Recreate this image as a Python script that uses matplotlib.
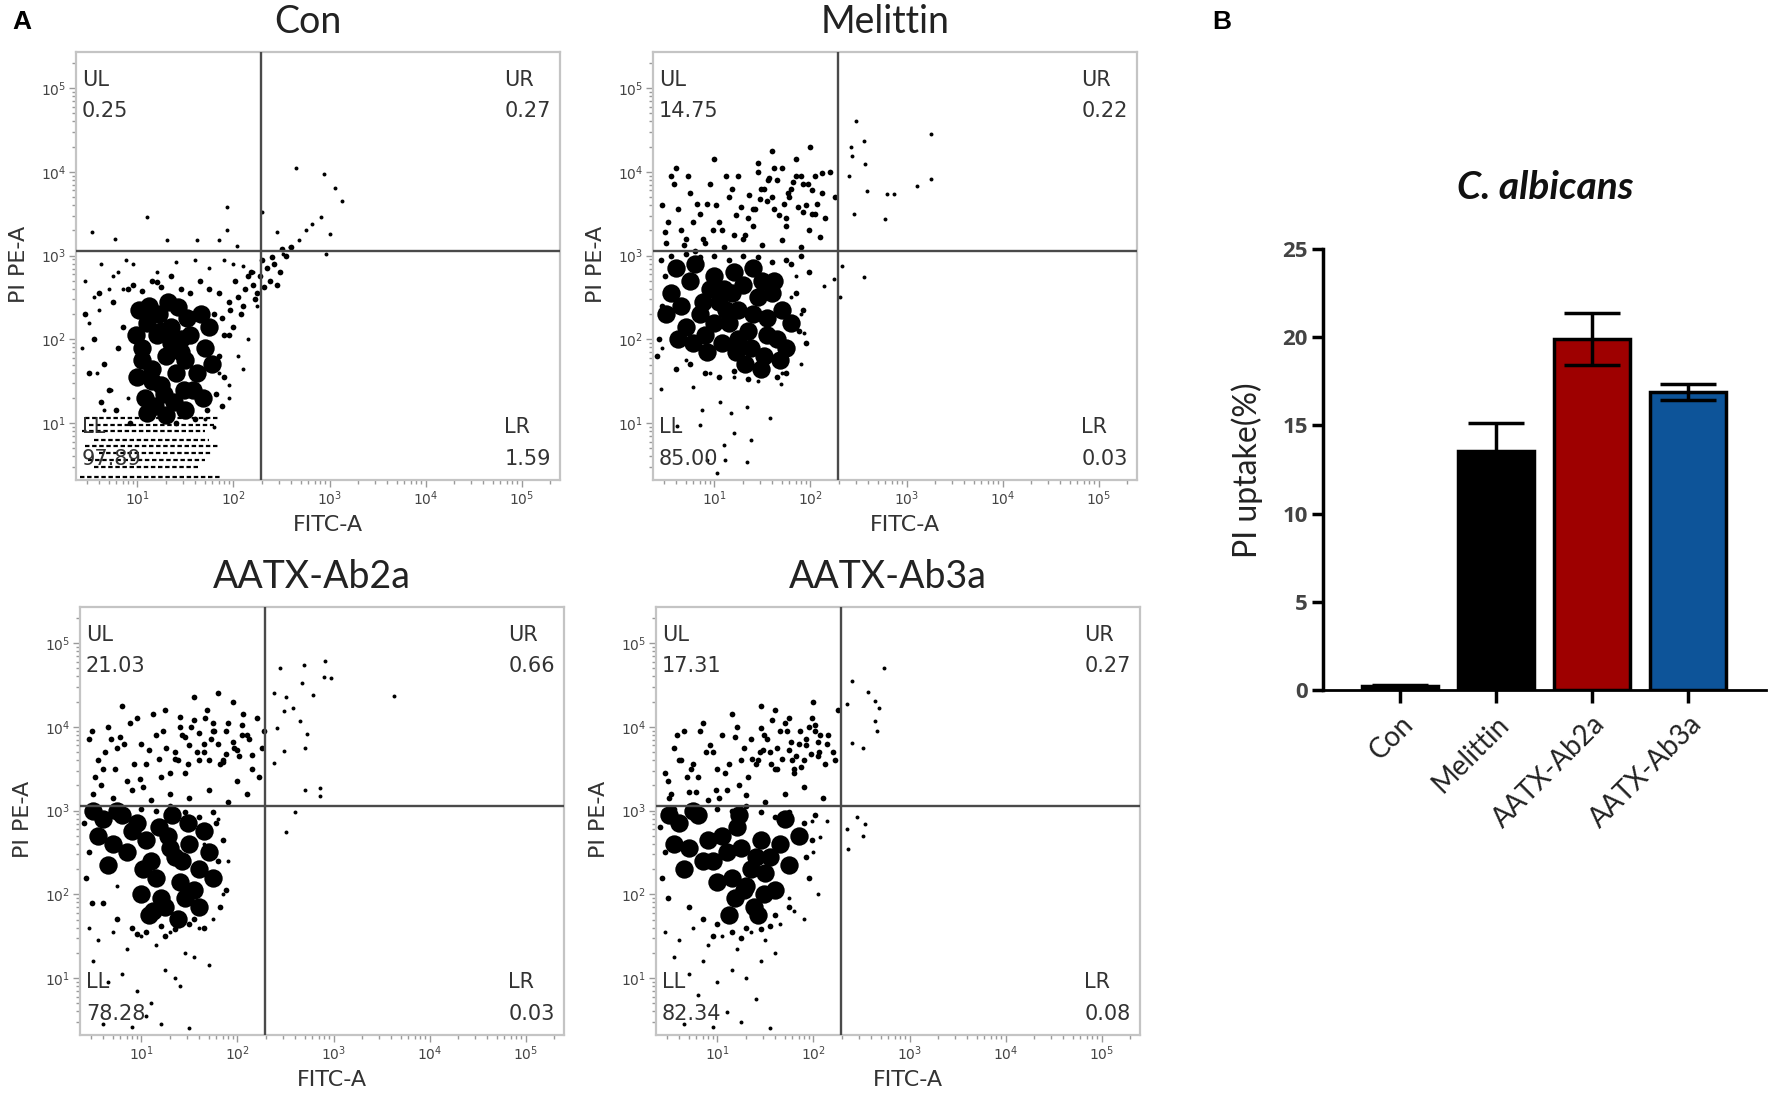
import numpy as np
import matplotlib
matplotlib.use("Agg")
import matplotlib.pyplot as plt
from matplotlib.ticker import FixedLocator, LogLocator, NullFormatter

# ---------------- data (log10 coordinates) ----------------
panel_names = ["Con", "Melittin", "AATX-Ab2a", "AATX-Ab3a"]
quad_UL = ["0.25", "14.75", "21.03", "17.31"]
quad_UR = ["0.27", "0.22", "0.66", "0.27"]
quad_LL = ["97.89", "85.00", "78.28", "82.34"]
quad_LR = ["1.59", "0.03", "0.03", "0.08"]
gate_x = 2.29   # log10 FITC-A gate
gate_y = 3.05   # log10 PI PE-A gate

# Con
con_core_x = [1.00,1.05,1.10,1.15,1.20,1.25,1.30,1.35,1.40,1.45,1.50,
              1.02,1.12,1.22,1.32,1.42,1.52,1.08,1.18,1.28,1.38,1.48,
              1.05,1.15,1.25,1.35,1.45,1.55,1.62,1.70,1.66,1.75,1.58,
              0.98,1.10,1.30,1.50,1.68,1.78]
con_core_y = [1.55,1.90,2.20,1.65,2.05,1.45,1.80,2.15,1.60,2.00,1.75,
              2.35,2.40,2.30,2.45,2.38,2.25,1.30,1.20,1.35,1.25,1.40,
              1.75,1.50,2.10,1.95,1.85,2.05,1.60,1.90,2.30,2.15,1.40,
              2.05,1.12,1.10,1.15,1.30,1.70]
con_fr_x = [0.45,0.55,0.65,0.75,0.85,0.50,0.60,0.70,0.80,0.90,1.85,1.90,1.95,1.82,1.88,
            0.95,1.05,1.15,1.25,1.35,1.45,1.55,1.65,0.62,0.78,0.92,1.40,1.60,1.72,1.20]
con_fr_y = [2.30,2.00,1.70,2.45,2.15,1.60,2.55,1.40,1.90,2.60,1.80,1.55,2.05,1.35,1.20,
            2.65,2.58,2.70,2.62,2.75,2.60,2.55,2.70,1.25,1.15,1.00,1.00,1.05,1.15,2.68]
con_tail_x = [1.80,1.88,1.96,2.05,2.12,2.20,2.28,2.35,2.42,1.85,1.95,2.02,2.10,2.18,2.25,2.32,2.40,2.48,2.55,
              1.90,2.00,2.08,2.15,2.22,2.30,2.38,2.45,2.60,2.50,1.75]
con_tail_y = [2.30,2.25,2.35,2.50,2.60,2.65,2.75,2.85,2.90,2.55,2.45,2.70,2.40,2.80,2.55,2.62,2.98,2.80,3.00,
              2.05,2.15,2.30,2.75,2.48,2.95,2.70,2.65,3.10,3.08,2.60]
con_dot_x = [2.65,2.94,3.06,3.13,1.10,1.93,1.93,0.53,0.77,1.31,1.62,1.85,2.04,2.30,2.45,2.91,3.00,2.96,2.82,2.75,2.68,2.59,2.52,
             0.45,0.55,0.62,0.70,0.80,0.88,0.50,0.60,0.75,0.85,0.95,1.20,1.40,1.60,1.75,1.90,2.00,2.10,2.20,1.85,1.95,2.05,2.15,
             0.42,0.58,0.72,0.90,1.95,2.10,2.25,1.70,1.80,0.65]
con_dot_y = [4.05,3.97,3.81,3.65,3.46,3.58,3.30,3.28,3.20,3.18,3.18,3.19,3.11,3.52,3.28,3.46,3.26,3.02,3.38,3.30,3.18,3.10,3.02,
             2.70,2.50,2.90,2.60,2.80,2.95,2.20,2.35,2.75,2.60,2.90,2.80,2.92,2.95,2.85,2.95,2.90,2.88,2.80,1.60,1.45,1.80,2.00,
             1.90,1.60,1.40,1.30,1.30,1.65,2.40,1.05,0.95,1.15]
con_streak_y = [1.06, 0.98, 0.90, 0.80, 0.72, 0.64, 0.56, 0.48, 0.36]
con_streak_x0 = [0.45, 0.50, 0.42, 0.55, 0.45, 0.60, 0.48, 0.55, 0.40]
con_streak_x1 = [1.85, 1.80, 1.70, 1.75, 1.86, 1.78, 1.70, 1.65, 1.88]

# Melittin
mel_core_x = [0.55,0.65,0.75,0.85,0.95,1.05,1.15,1.25,1.35,1.45,1.55,1.65,
              0.60,0.70,0.80,0.90,1.00,1.10,1.20,1.30,1.40,1.50,1.60,1.70,
              0.50,0.62,0.78,0.92,1.08,1.22,1.38,1.52,1.68,1.80,
              1.00,1.12,1.25,1.40,1.55,0.88,1.18,1.32,1.48,1.62,1.75]
mel_core_y = [2.55,2.40,2.70,2.30,2.60,2.45,2.20,2.35,2.10,2.50,2.25,2.00,
              2.85,2.15,2.90,2.05,2.75,2.60,2.80,2.65,2.85,2.70,2.55,2.35,
              2.30,2.00,1.95,1.85,1.95,1.85,1.90,1.80,1.75,2.20,
              2.20,2.35,2.00,2.30,2.05,2.45,2.55,1.70,1.65,2.70,1.90]
mel_fr_x = [0.42,0.45,0.48,0.40,0.44,1.85,1.92,1.98,1.88,1.95,1.80,1.75,
            0.60,0.75,0.90,1.05,1.20,1.35,1.50,1.65,
            0.55,0.70,0.85,1.00,1.15,1.30,1.45,1.60,1.75,1.90]
mel_fr_y = [2.00,2.40,2.75,1.80,2.95,2.55,2.35,2.80,2.10,1.95,2.90,1.60,
            1.65,1.70,1.60,1.55,1.62,1.52,1.58,1.55,
            3.00,3.02,2.98,3.00,2.95,3.00,2.98,2.92,2.95,3.00]
mel_up_x = [0.45,0.55,0.65,0.75,0.85,0.95,1.05,1.15,1.25,1.35,1.45,1.55,1.65,1.75,1.85,1.95,2.05,2.15,2.25,
            0.50,0.70,0.90,1.10,1.30,1.50,1.70,1.90,2.10,
            0.60,0.80,1.00,1.20,1.40,1.60,1.80,2.00,2.20,
            1.48,1.62,1.78,1.92,2.02,1.70,1.85,1.56,2.12,1.98,
            1.42,1.52,1.62,1.72,1.82,1.92,2.02,2.12,1.47,1.57,1.67,1.77,1.87,1.97,2.07,1.45,1.60,1.75,1.90,2.05,
            0.48,0.62,0.78,0.92,1.08,1.22,1.36,0.58,0.72,0.88,1.02,1.18,1.32,0.52,0.82,1.12,1.28,0.68,0.98,1.40]
mel_up_y = [3.60,3.95,3.30,3.75,3.50,3.85,3.40,3.70,3.95,3.45,4.10,3.65,3.90,3.35,4.15,3.60,3.95,3.45,3.70,
            3.15,3.20,3.15,3.10,3.20,3.12,3.18,3.10,3.22,
            4.05,3.05,4.15,3.25,3.55,4.25,3.80,4.30,4.00,
            3.80,3.55,3.70,3.85,3.50,4.05,3.95,3.90,3.75,3.30,
            3.55,3.80,4.05,3.62,3.88,3.52,3.78,3.98,3.68,3.92,3.48,3.75,3.58,3.85,3.62,4.00,3.70,3.45,3.95,3.50,
            3.28,3.55,3.40,3.62,3.30,3.48,3.72,3.85,3.95,3.20,3.60,3.80,3.25,3.40,3.62,3.95,3.58,3.12,3.30,3.35]
mel_out_x = [2.47,3.25,3.25,3.11,2.87,2.80,2.78,2.59,2.56,2.42,2.43,2.57,2.40,2.45,2.56,2.33,2.31,2.24,2.14]
mel_out_y = [4.61,4.45,3.91,3.83,3.73,3.73,3.44,3.77,4.37,4.29,4.19,4.09,3.95,3.50,2.74,2.88,2.50,2.72,2.64]
mel_low_x = [0.44,0.78,0.87,1.06,1.17,1.34,1.58,0.85,1.20,1.10,1.38,1.11,1.34,0.61,0.92,1.03,1.90,1.93,1.69,
             0.45,0.50,1.80,1.90,1.85,1.70,1.45,1.20,0.95,0.70]
mel_low_y = [1.41,1.43,1.15,1.25,1.12,1.19,1.06,0.98,0.88,0.74,0.80,0.56,0.54,0.96,0.56,0.40,1.71,2.07,1.47,
             1.90,2.60,2.50,2.30,2.75,1.60,1.50,1.55,1.60,1.75]

# AATX-Ab2a
ab2_core_x = [1.00,1.10,1.20,1.30,1.40,1.50,1.60,1.05,1.15,1.25,1.35,1.45,1.55,
              0.60,0.70,0.80,0.90,0.65,0.85,0.75,0.95,1.70,1.75,1.65,
              1.02,1.18,1.32,1.48,1.12,1.28,1.42,0.55,0.50,1.60,1.08,1.38]
ab2_core_y = [2.00,2.40,1.95,2.55,2.15,2.60,2.30,2.65,2.20,1.85,2.45,1.95,2.05,
              2.90,2.60,2.95,2.75,2.35,2.50,3.00,2.85,2.50,2.20,2.75,
              2.30,2.80,2.95,2.85,1.80,2.70,2.40,2.70,3.00,1.85,1.75,1.70]
ab2_fr_x = [0.42,0.45,0.40,0.48,0.44,1.80,1.85,1.88,1.78,1.82,
            0.60,0.75,0.90,1.05,1.20,1.35,1.50,1.65,
            0.55,0.70,0.85,1.00,1.15,1.30,1.45,1.60,1.75,0.95,1.25,1.55]
ab2_fr_y = [2.20,2.50,2.85,1.90,3.00,2.40,2.65,2.05,2.85,1.85,
            1.90,1.70,1.60,1.55,1.62,1.58,1.65,1.60,
            3.02,3.05,2.98,3.02,3.00,3.05,2.98,2.92,2.98,1.52,1.50,1.70]
ab2_up_x = [0.45,0.55,0.65,0.75,0.85,0.95,1.05,1.15,1.25,1.35,1.45,1.55,1.65,1.75,1.85,1.95,2.05,2.15,2.25,
            0.50,0.70,0.90,1.10,1.30,1.50,1.70,1.90,2.10,
            0.60,0.80,1.00,1.20,1.40,1.60,1.80,2.00,2.20,
            1.42,1.58,1.72,1.88,2.02,1.66,1.82,1.52,2.12,1.96,1.38,1.76,2.06,
            1.35,1.45,1.55,1.65,1.75,1.85,1.95,2.05,2.15,1.40,1.50,1.60,1.70,1.80,1.90,2.00,2.10,1.48,1.68,1.88,
            0.48,0.62,0.78,0.92,1.08,1.22,0.58,0.72,0.88,1.02,1.18,1.30,0.52,0.82,1.12,0.68,0.98,1.26,2.22,2.28]
ab2_up_y = [3.85,3.60,4.00,3.75,3.35,4.10,3.55,3.90,4.20,3.70,3.45,4.35,3.80,4.05,3.60,4.30,3.90,3.50,3.75,
            3.20,3.15,3.25,3.12,3.20,3.15,3.25,3.10,3.20,
            3.50,4.25,3.80,3.40,4.00,3.60,4.40,3.35,4.10,
            3.90,3.70,3.85,3.95,3.65,4.10,3.55,4.00,3.85,3.75,3.60,3.95,4.15,
            3.62,3.88,4.08,3.70,3.95,3.58,3.82,4.02,3.66,4.12,3.78,3.92,3.60,3.80,4.05,3.72,3.90,3.55,4.20,3.68,
            3.95,3.70,3.88,3.55,3.72,3.95,3.30,3.50,4.05,3.28,3.62,3.45,3.40,3.80,4.15,3.85,3.38,3.75,3.40,3.95]
ab2_out_x = [2.44,2.69,2.91,2.90,2.97,3.63,2.79,2.67,2.38,2.51,2.58,2.65,2.72,2.70,2.48,2.38,2.70,2.86,2.86,2.60,2.51,2.41,2.48]
ab2_out_y = [4.70,4.74,4.79,4.60,4.58,4.37,4.38,4.52,4.40,4.35,4.23,4.07,3.91,3.75,3.71,3.57,3.25,3.27,3.17,2.98,2.74,3.99,4.19]
ab2_low_x = [0.45,0.55,0.70,0.85,1.00,1.15,1.30,1.45,1.60,1.75,1.85,1.90,0.50,0.65,0.80,0.95,1.10,1.25,1.40,1.55,1.70,
             0.60,0.90,1.20,1.50,1.05,1.35,0.75,1.65,1.80]
ab2_low_y = [1.60,1.45,1.55,1.35,1.50,1.40,1.55,1.30,1.60,1.70,2.00,2.40,1.20,0.95,1.05,0.85,0.70,1.10,0.90,1.25,1.15,
             0.45,0.42,0.45,0.40,0.55,1.00,2.10,2.60,2.90]

# AATX-Ab3a
ab3_core_x = [0.95,1.05,1.15,1.25,1.35,1.45,1.55,1.00,1.10,1.20,1.30,1.40,1.50,1.18,1.28,1.38,1.48,
              0.60,0.70,0.80,0.90,0.65,0.85,0.75,1.65,1.75,1.85,1.70,1.60,0.55,0.50,1.12,1.42,1.22]
ab3_core_y = [2.40,2.70,2.20,2.55,2.30,2.65,2.45,2.15,2.50,2.80,2.10,2.45,2.25,1.95,2.05,1.85,2.00,
              2.85,2.55,2.95,2.65,2.30,2.40,3.00,2.60,2.35,2.70,2.90,2.05,2.60,2.95,1.75,1.75,2.95]
ab3_fr_x = [0.42,0.45,0.40,0.48,0.44,1.92,1.98,1.95,1.90,2.02,
            0.70,0.85,1.00,1.15,1.30,1.45,1.60,1.75,
            0.55,0.70,0.85,1.00,1.15,1.30,1.45,1.60,1.75,0.95,1.25,1.55]
ab3_fr_y = [2.20,2.50,2.80,1.95,3.00,2.45,2.65,2.20,2.85,2.95,
            1.85,1.70,1.65,1.55,1.60,1.58,1.75,1.85,
            3.02,3.05,2.98,3.02,3.00,3.05,2.98,2.92,2.98,1.50,1.48,1.62]
ab3_up_x = [0.45,0.55,0.65,0.75,0.85,0.95,1.05,1.15,1.25,1.35,1.45,1.55,1.65,1.75,1.85,1.95,2.05,2.15,2.25,
            0.50,0.70,0.90,1.10,1.30,1.50,1.70,1.90,2.10,
            0.60,0.80,1.00,1.20,1.40,1.60,1.80,2.00,2.20,
            1.48,1.62,1.78,1.92,2.06,1.70,1.86,1.56,2.14,1.98,1.44,1.80,2.02,
            1.42,1.52,1.62,1.72,1.82,1.92,2.02,2.12,1.47,1.57,1.67,1.77,1.87,1.97,2.07,1.45,1.60,1.75,1.90,2.05,
            0.48,0.62,0.78,0.92,1.08,1.22,1.36,0.58,0.72,0.88,1.02,1.18,1.32,0.52,0.82,1.12,1.28,0.68,0.98,2.22]
ab3_up_y = [3.45,3.75,3.95,3.55,4.05,3.70,3.90,4.15,3.60,3.85,4.25,3.70,3.95,4.10,3.80,4.00,3.65,3.90,4.20,
            3.15,3.22,3.12,3.25,3.18,3.10,3.20,3.28,3.15,
            3.60,3.40,3.50,4.00,3.55,4.20,3.45,4.30,3.70,
            3.90,3.75,3.60,3.85,3.70,4.05,3.95,3.55,3.80,4.10,3.70,3.50,3.95,
            3.60,3.85,3.50,3.95,3.65,3.78,4.02,3.55,3.72,4.08,3.62,3.82,3.52,3.68,3.90,3.98,3.50,3.72,3.60,3.82,
            3.35,3.60,3.22,3.78,3.45,3.30,3.62,3.90,3.50,3.70,3.15,3.88,3.40,3.20,3.95,3.55,3.75,3.40,3.25,3.60]
ab3_out_x = [2.73,2.40,2.57,2.64,2.68,2.64,2.66,2.52,2.40,2.35,2.45,2.54,2.52,2.36,2.35,2.14,2.07,1.98]
ab3_out_y = [4.70,4.55,4.42,4.31,4.23,4.07,3.95,3.75,3.81,4.27,2.92,2.84,2.70,2.54,2.78,2.88,2.68,2.88]
ab3_low_x = [0.45,0.60,0.75,0.90,1.05,1.20,1.35,1.50,1.65,1.80,1.95,2.00,
             0.55,0.70,0.85,1.00,1.15,1.30,1.45,1.60,
             0.65,0.95,1.25,1.55,1.10,1.40,0.80,1.90,2.05,1.75]
ab3_low_y = [1.55,1.45,1.60,1.40,1.50,1.35,1.55,1.45,1.65,1.80,2.20,2.50,
             1.25,1.05,1.20,0.95,1.10,1.00,1.20,1.30,
             0.45,0.42,0.48,0.40,0.60,0.75,0.80,1.70,2.00,1.95]

# Bar chart (panel B)
bar_groups = ["Con", "Melittin", "AATX-Ab2a", "AATX-Ab3a"]
bar_means = [0.20, 13.57, 19.90, 16.90]
bar_err = [0.10, 1.58, 1.50, 0.45]
bar_colors = ["#000000", "#000000", "#9e0000", "#0d5499"]
bar_yticks = [0, 5, 10, 15, 20, 25]

# ---------------- figure ----------------
W, H = 1772, 1099
fig = plt.figure(figsize=(W / 100, H / 100), dpi=100)
fig.patch.set_facecolor("white")

def fx(px):
    return px / W

def fy(py):
    return 1 - py / H

def p10(v):
    return np.power(10.0, np.asarray(v, dtype=float))

XLIM = (0.36, 5.40)
YLIM = (0.32, 5.43)
AW, AH = 484, 428
S_CORE, S_MID, S_DOT = 175, 17, 8

def flow_panel(left, top, idx, layers, streaks=None):
    ax = fig.add_axes([fx(left), fy(top + AH), AW / W, AH / H])
    ax.set_xscale("log")
    ax.set_yscale("log")
    ax.set_xlim(p10(XLIM[0]), p10(XLIM[1]))
    ax.set_ylim(p10(YLIM[0]), p10(YLIM[1]))
    for s in ax.spines.values():
        s.set_color("#c4c4c4")
        s.set_linewidth(1.6)
    major = [10, 100, 1000, 10000, 100000]
    labels = [r"$10^{%d}$" % k for k in range(1, 6)]
    for axis in (ax.xaxis, ax.yaxis):
        axis.set_major_locator(FixedLocator(major))
        axis.set_minor_locator(LogLocator(base=10, subs=np.arange(2, 10)))
        axis.set_minor_formatter(NullFormatter())
    ax.set_xticklabels(labels)
    ax.set_yticklabels(labels)
    ax.tick_params(which="both", direction="out", color="#9a9a9a", width=1.0,
                   labelsize=10, labelcolor="#444444", pad=2)
    ax.tick_params(which="major", length=5)
    ax.tick_params(which="minor", length=3)

    if streaks is not None:
        sy, sx0, sx1 = streaks
        ax.hlines(p10(sy), p10(sx0), p10(sx1), colors="black",
                  linestyles=(0, (2.0, 1.2)), linewidth=1.6, zorder=2)
    for lx, ly, size in layers:
        ax.scatter(p10(lx), p10(ly), s=size, c="black", marker="o",
                   linewidths=0, zorder=3)

    ax.axvline(p10(gate_x), color="#4a4a4a", lw=1.7, zorder=4)
    ax.axhline(p10(gate_y), color="#4a4a4a", lw=1.7, zorder=4)

    tkw = dict(transform=ax.transAxes, fontsize=15, color="#333333", zorder=5)
    ax.text(0.012, 0.935, "UL", ha="left", va="center", **tkw)
    ax.text(0.012, 0.862, quad_UL[idx], ha="left", va="center", **tkw)
    ax.text(0.885, 0.935, "UR", ha="left", va="center", **tkw)
    ax.text(0.885, 0.862, quad_UR[idx], ha="left", va="center", **tkw)
    ax.text(0.012, 0.124, "LL", ha="left", va="center", **tkw)
    ax.text(0.012, 0.050, quad_LL[idx], ha="left", va="center", **tkw)
    ax.text(0.885, 0.124, "LR", ha="left", va="center", **tkw)
    ax.text(0.885, 0.050, quad_LR[idx], ha="left", va="center", **tkw)

    fig.text(fx(left + AW / 2 - 10), fy(top - 30), panel_names[idx], ha="center",
             va="center", fontsize=27, family="Lato", color="#222222")
    fig.text(fx(left + 252), fy(top + AH + 45), "FITC-A", ha="center", va="center",
             fontsize=16, color="#333333")
    fig.text(fx(left - 57), fy(top + 212), "PI PE-A", ha="center", va="center",
             rotation=90, fontsize=16, color="#333333")
    return ax

flow_panel(76, 52, 0,
           [(con_core_x, con_core_y, S_CORE), (con_fr_x, con_fr_y, S_MID),
            (con_tail_x, con_tail_y, S_MID), (con_dot_x, con_dot_y, S_DOT)],
           streaks=(con_streak_y, con_streak_x0, con_streak_x1))
flow_panel(653, 52, 1,
           [(mel_core_x, mel_core_y, S_CORE), (mel_fr_x, mel_fr_y, S_MID),
            (mel_up_x, mel_up_y, S_MID), (mel_out_x, mel_out_y, S_DOT),
            (mel_low_x, mel_low_y, S_DOT)])
flow_panel(80, 607, 2,
           [(ab2_core_x, ab2_core_y, S_CORE), (ab2_fr_x, ab2_fr_y, S_MID),
            (ab2_up_x, ab2_up_y, S_MID), (ab2_out_x, ab2_out_y, S_DOT),
            (ab2_low_x, ab2_low_y, S_DOT)])
flow_panel(656, 607, 3,
           [(ab3_core_x, ab3_core_y, S_CORE), (ab3_fr_x, ab3_fr_y, S_MID),
            (ab3_up_x, ab3_up_y, S_MID), (ab3_out_x, ab3_out_y, S_DOT),
            (ab3_low_x, ab3_low_y, S_DOT)])

# ---------------- panel B bar chart ----------------
bx = fig.add_axes([fx(1323), fy(690), (1766 - 1323) / W, (690 - 249) / H])
xpos = np.arange(len(bar_groups))
bx.bar(xpos, bar_means, width=0.79, color=bar_colors, edgecolor="black",
       linewidth=2.5, zorder=2)
bx.errorbar(xpos, bar_means, yerr=bar_err, fmt="none", ecolor="black",
            elinewidth=2.5, capsize=20, capthick=2.5, zorder=3)
bx.set_xlim(-0.80, 3.81)
bx.set_ylim(0, 25)
bx.set_yticks(bar_yticks)
bx.set_yticklabels([str(v) for v in bar_yticks], fontsize=16, fontweight="bold",
                   family="Open Sans", color="#444444")
bx.spines["top"].set_visible(False)
bx.spines["right"].set_visible(False)
bx.spines["left"].set_linewidth(2.5)
bx.spines["bottom"].set_linewidth(2.0)
bx.set_xticks(xpos)
bx.set_xticklabels(bar_groups, rotation=45, ha="right", va="top",
                   rotation_mode="anchor", fontsize=20, family="Lato", color="#222222")
bx.tick_params(axis="x", length=9, width=2.5, pad=6)
bx.tick_params(axis="y", length=8, width=2.5, pad=3)
fig.text(fx(1247), fy(470), "PI uptake(%)", rotation=90, ha="center", va="center",
         fontsize=23, family="Lato", color="#222222")
fig.text(fx(1545), fy(187), "C. albicans", ha="center", va="center", fontsize=28,
         family="Lato", fontweight="bold", fontstyle="italic", color="#111111")

fig.text(fx(22), fy(22), "A", ha="center", va="center", fontsize=19,
         fontweight="bold", family="Liberation Sans")
fig.text(fx(1222), fy(22), "B", ha="center", va="center", fontsize=19,
         fontweight="bold", family="Liberation Sans")

fig.savefig("out.png", dpi=100, facecolor="white")
